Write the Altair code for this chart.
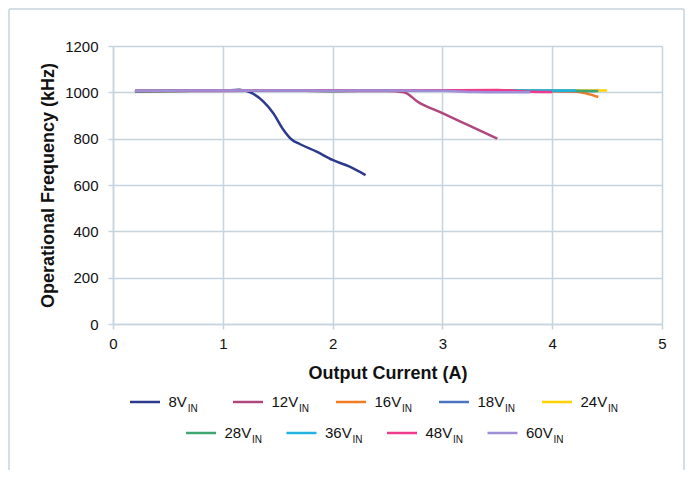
import altair as alt
import pandas as pd

# ---------------- data ----------------
series = ["8V", "12V", "16V", "18V", "24V", "28V", "36V", "48V", "60V"]
colors = ["#2B3A8F", "#B0477F", "#F37C21", "#4A74C0", "#FFD200",
          "#3FA672", "#22B3E3", "#EE3B8B", "#9F8FD8"]

cur_8 = [0.2, 0.5, 1.0, 1.15, 1.25, 1.37, 1.46, 1.55, 1.63, 1.7, 1.85, 2.0, 2.15, 2.3]
frq_8 = [1005, 1006, 1007, 1011, 1000, 960, 910, 840, 795, 777, 745, 708, 680, 643]

cur_12 = [0.2, 0.5, 1.0, 1.5, 2.0, 2.5, 2.65, 2.78, 3.0, 3.25, 3.5]
frq_12 = [1005, 1006, 1006, 1007, 1006, 1006, 1000, 958, 910, 855, 800]

cur_16 = [0.2, 0.5, 1.0, 1.5, 2.0, 2.5, 3.0, 3.5, 4.0, 4.22, 4.42]
frq_16 = [1006, 1006, 1007, 1007, 1006, 1007, 1007, 1006, 1005, 1003, 980]

cur_18 = [0.2, 0.5, 1.0, 1.5, 2.0, 2.5, 3.0, 3.5, 4.0, 4.2, 4.4]
frq_18 = [1006, 1007, 1007, 1007, 1006, 1007, 1007, 1007, 1006, 1006, 1006]

cur_24 = [0.2, 0.5, 1.0, 1.5, 2.0, 2.5, 3.0, 3.5, 4.0, 4.2, 4.4, 4.5]
frq_24 = [1007, 1007, 1008, 1008, 1007, 1008, 1008, 1008, 1008, 1008, 1008, 1008]

cur_28 = [0.2, 0.5, 1.0, 1.5, 2.0, 2.5, 3.0, 3.5, 4.0, 4.2, 4.42]
frq_28 = [1006, 1006, 1007, 1007, 1006, 1007, 1007, 1007, 1007, 1007, 1006]

cur_36 = [0.2, 0.5, 1.0, 1.5, 2.0, 2.5, 3.0, 3.5, 4.0, 4.22]
frq_36 = [1007, 1007, 1008, 1008, 1007, 1008, 1008, 1008, 1008, 1008]

cur_48 = [0.2, 0.5, 1.0, 1.5, 2.0, 2.5, 3.0, 3.5, 3.8, 4.0]
frq_48 = [1007, 1007, 1008, 1008, 1008, 1008, 1009, 1010, 1003, 1001]

cur_60 = [0.2, 0.5, 1.0, 1.5, 2.0, 2.5, 3.0, 3.3, 3.5, 3.8]
frq_60 = [1007, 1007, 1008, 1008, 1007, 1008, 1007, 1001, 1000, 1000]

currents = [cur_8, cur_12, cur_16, cur_18, cur_24, cur_28, cur_36, cur_48, cur_60]
freqs = [frq_8, frq_12, frq_16, frq_18, frq_24, frq_28, frq_36, frq_48, frq_60]

x_ticks = [0, 1, 2, 3, 4, 5]
y_ticks = [0, 200, 400, 600, 800, 1000, 1200]

# ---------------- tables ----------------
rows = []
for k, (s, xs, ys) in enumerate(zip(series, currents, freqs)):
    for xv, yv in zip(xs, ys):
        rows.append({"series": s, "k": k, "current": xv, "freq": yv})
df = pd.DataFrame(rows)

# custom legend layout (pixel positions relative to plot origin)
W, H = 549, 278
PAD_B = 146
FONT = "Liberation Sans"
LEG_FS = 15
SUB_FS = 10
leg_rows = []
for i, s in enumerate(series):
    if i < 5:
        x0 = 17 + i * 103
        y0 = 356
    else:
        x0 = 73 + (i - 5) * 100.5
        y0 = 387
    tx = x0 + 38.5
    text_w = sum(0.667 if c == "V" else 0.556 for c in s) * LEG_FS
    leg_rows.append({"series": s, "lx": x0, "lx2": x0 + 30, "ly": y0,
                     "tx": tx, "sx": tx + text_w + 0.8, "sy": y0 + 7})
leg = pd.DataFrame(leg_rows)

grid_c = "#C6D4DD"
color_scale = alt.Scale(domain=series, range=colors)

lines = alt.Chart(df).mark_line(strokeWidth=2.5, interpolate="monotone").encode(
    x=alt.X("current:Q", scale=alt.Scale(domain=[0, 5], nice=False),
            axis=alt.Axis(values=x_ticks, title="Output Current (A)", format="d",
                          labelFlush=False, labelPadding=7, titlePadding=13)),
    y=alt.Y("freq:Q", scale=alt.Scale(domain=[0, 1200], nice=False),
            axis=alt.Axis(values=y_ticks, title="Operational Frequency (kHz)", format="d",
                          labelFlush=False, labelPadding=10, titlePadding=7)),
    color=alt.Color("series:N", scale=color_scale, legend=None),
    detail="k:Q",
)

leg_sym = alt.Chart(leg).mark_rule(strokeWidth=2.5).encode(
    x=alt.X("lx:Q", scale=None, axis=None),
    x2="lx2:Q",
    y=alt.Y("ly:Q", scale=None, axis=None),
    color=alt.Color("series:N", scale=color_scale, legend=None),
)
leg_txt = alt.Chart(leg).mark_text(align="left", baseline="middle", font=FONT,
                                   fontSize=LEG_FS, color="#111111").encode(
    x=alt.X("tx:Q", scale=None, axis=None),
    y=alt.Y("ly:Q", scale=None, axis=None),
    text="series:N",
)
leg_sub = alt.Chart(leg).mark_text(align="left", baseline="middle", font=FONT,
                                   fontSize=SUB_FS, color="#111111").encode(
    x=alt.X("sx:Q", scale=None, axis=None),
    y=alt.Y("sy:Q", scale=None, axis=None),
    text=alt.value("IN"),
)

one = pd.DataFrame({"a": [0]})
bottom_edge = H + PAD_B + 40
frame_left = alt.Chart(one).mark_rule(color=grid_c, strokeWidth=1.5).encode(
    x=alt.value(-104), y=alt.value(-37), y2=alt.value(bottom_edge))
frame_right = alt.Chart(one).mark_rule(color=grid_c, strokeWidth=1.5).encode(
    x=alt.value(571), y=alt.value(-37), y2=alt.value(bottom_edge))
frame_top = alt.Chart(one).mark_rule(color=grid_c, strokeWidth=1.5).encode(
    x=alt.value(-104), x2=alt.value(571), y=alt.value(-37))

chart = alt.layer(frame_left, frame_right, frame_top, lines, leg_sym, leg_txt, leg_sub).resolve_scale(
    x="independent", y="independent"
).properties(
    width=W, height=H,
    autosize=alt.AutoSizeParams(type="none"),
    padding={"left": 105, "top": 38, "right": 23, "bottom": PAD_B},
).configure_view(stroke=None).configure_axis(
    grid=True, gridColor=grid_c, gridWidth=1.5,
    domainColor=grid_c, domainWidth=1.5,
    tickColor=grid_c, tickWidth=1.5, tickSize=5,
    labelFont=FONT, labelFontSize=15, labelColor="#111111",
    titleFont=FONT, titleFontSize=18, titleFontWeight="bold", titleColor="#111111",
)

chart.save("out.html", embed_options={"renderer": "svg", "actions": False})
